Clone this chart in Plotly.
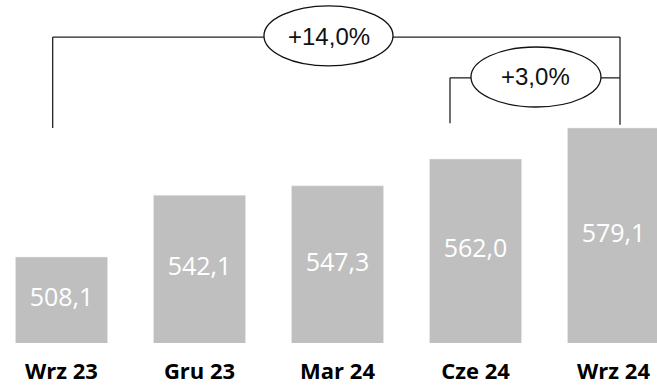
import plotly.graph_objects as go

# dane
kwartaly = ["Wrz 23", "Gru 23", "Mar 24", "Cze 24", "Wrz 24"]
wartosci = [508.1, 542.1, 547.3, 562.0, 579.1]
zmiany = ["+14,0%", "+3,0%"]
os_min, os_max = 460.8, 649.5

etykiety = [f"{v:.1f}".replace(".", ",") for v in wartosci]

fig = go.Figure()

fig.add_trace(go.Bar(
    x=kwartaly, y=wartosci,
    marker_color="#bfbfbf",
    hoverinfo="skip",
))

# etykiety wartosci na srodku slupkow
fig.add_trace(go.Scatter(
    x=kwartaly, y=[(os_min + v) / 2 for v in wartosci],
    mode="text", text=etykiety, textposition="middle center",
    textfont=dict(family="Open Sans", size=25, color="white"),
    hoverinfo="skip",
))

# klamry (wspolrzedne: x w jednostkach kategorii, y w ulamku obszaru wykresu)
linia = dict(color="#222222", width=1.3)
def odcinek(x0, y0, x1, y1):
    fig.add_shape(type="line", xref="x", yref="paper", x0=x0, y0=y0, x1=x1, y1=y1, line=linia)

# duza klamra Wrz 23 -> Wrz 24
odcinek(-0.064, 0.627, -0.064, 0.892)
odcinek(-0.064, 0.892, 1.467, 0.892)
odcinek(2.402, 0.892, 4.047, 0.892)
odcinek(4.047, 0.892, 4.047, 0.636)
fig.add_shape(type="circle", xref="x", yref="paper", x0=1.467, x1=2.402, y0=0.808, y1=0.983,
              line=dict(color="#111111", width=1.3), fillcolor="white")

# mala klamra Cze 24 -> Wrz 24
odcinek(2.815, 0.641, 2.815, 0.773)
odcinek(2.815, 0.773, 2.967, 0.773)
odcinek(3.909, 0.773, 4.047, 0.773)
fig.add_shape(type="circle", xref="x", yref="paper", x0=2.967, x1=3.909, y0=0.688, y1=0.863,
              line=dict(color="#111111", width=1.3), fillcolor="white")

fig.add_annotation(x=1.935, y=0.895, xref="x", yref="paper", text=zmiany[0], showarrow=False,
                   xanchor="center", yanchor="middle",
                   font=dict(family="Liberation Sans", size=24, color="#111111"))
fig.add_annotation(x=3.438, y=0.776, xref="x", yref="paper", text=zmiany[1], showarrow=False,
                   xanchor="center", yanchor="middle",
                   font=dict(family="Liberation Sans", size=24, color="#111111"))

fig.update_layout(
    width=657, height=388,
    margin=dict(l=0, r=0, t=0, b=45),
    paper_bgcolor="white", plot_bgcolor="white",
    bargap=0.333,
    showlegend=False,
    xaxis=dict(type="category", range=[-0.4457, 4.315],
               showgrid=False, zeroline=False, showline=False, ticks="",
               ticklabelstandoff=13,
               tickfont=dict(family="Open Sans", size=22, color="black", weight="bold")),
    yaxis=dict(range=[os_min, os_max], visible=False, showgrid=False),
)

fig.write_html("out.html", config={"displayModeBar": False},
               post_script="document.body.style.margin='0';")
